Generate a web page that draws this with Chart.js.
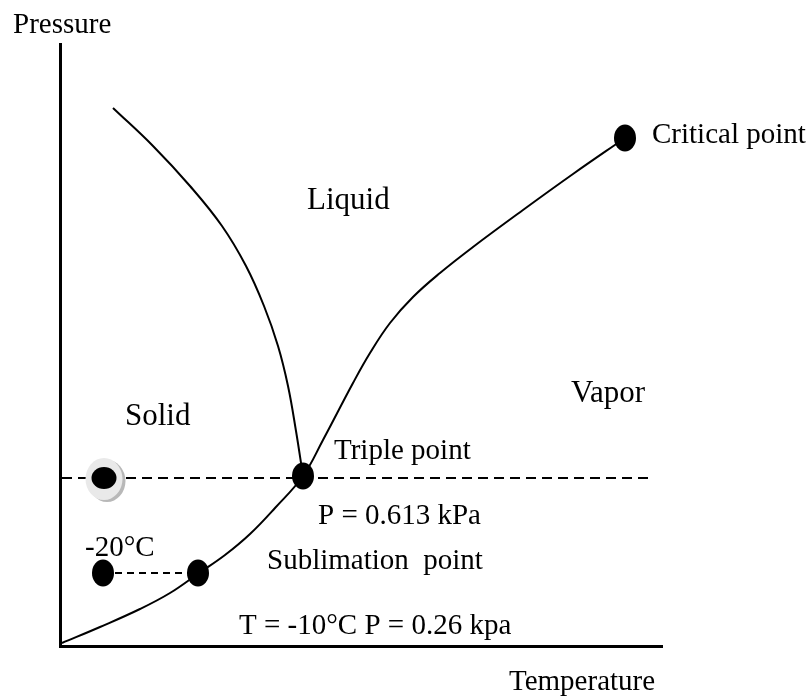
<!DOCTYPE html>
<html>
<head>
<meta charset="utf-8">
<script src="https://cdn.jsdelivr.net/npm/chart.js@4.4.1/dist/chart.umd.min.js"></script>
<style>
  html, body { margin: 0; padding: 0; background: #fff; }
  canvas { display: block; }
</style>
</head>
<body>
<canvas id="phaseChart" width="811" height="697"></canvas>
<script>
// Schematic phase diagram, arbitrary units (temperature right, pressure up)
const meltingCurveT = [53, 93, 130, 162, 186, 204, 218, 228, 236, 243];
const meltingCurveP = [538, 500, 460, 420, 380, 340, 300, 260, 215, 170];

const vaporCurveT = [2, 40, 80, 110, 139, 165, 190, 215, 243, 263, 293, 310, 330, 353, 380, 413, 463, 513, 565];
const vaporCurveP = [3, 19, 37, 53, 73, 91, 112, 138, 170, 206, 263, 293, 323, 349, 373, 399, 436, 472, 508];

const triplePressure = 168;
const tripleLineT = [2, 593];

const sublimationPressure = 73;
const sublimationLineT = [43, 138];

// marked states: triple point, critical point, -20°C state, sublimation point
const markT = [243, 565, 43, 138];
const markP = [170, 508, 73, 73];

// highlighted state on the triple-point isobar
const highlightT = [44];
const highlightP = [168];

const toPoints = (xs, ys) => xs.map((x, i) => ({ x: x, y: ys[i] }));

// black ellipse used as the point marker
function ellipseMarker() {
    const c = document.createElement('canvas');
    c.width = 24; c.height = 28;
    const g = c.getContext('2d');
    g.fillStyle = '#000';
    g.beginPath();
    g.ellipse(12, 14, 11, 13.5, 0, 0, Math.PI * 2);
    g.fill();
    return c;
}

// black ellipse on a light ring with a grey drop shadow
function shadedMarker() {
    const c = document.createElement('canvas');
    c.width = 48; c.height = 52;
    const g = c.getContext('2d');
    g.fillStyle = '#b8b8b8';
    g.beginPath();
    g.ellipse(27, 29, 18.5, 21, 0, 0, Math.PI * 2);
    g.fill();
    g.fillStyle = '#e9e9e9';
    g.beginPath();
    g.ellipse(24, 27, 18.5, 21, 0, 0, Math.PI * 2);
    g.fill();
    g.fillStyle = '#000';
    g.beginPath();
    g.ellipse(24, 26, 12.5, 11, 0, 0, Math.PI * 2);
    g.fill();
    return c;
}

const serif = '"Liberation Serif", "Times New Roman", serif';

// region names and notes, anchored in data units (left edge, baseline)
const textLabels = [
    { text: 'Critical point', x: 592, y: 503, size: 29 },
    { text: 'Liquid', x: 247, y: 437, size: 31 },
    { text: 'Solid', x: 65, y: 221, size: 31 },
    { text: 'Vapor', x: 511, y: 244, size: 31 },
    { text: 'Triple point', x: 274, y: 187, size: 29 },
    { text: 'P = 0.613 kPa', x: 258, y: 122, size: 29 },
    { text: '-20°C', x: 25, y: 90, size: 29 },
    { text: 'Sublimation  point', x: 207, y: 77, size: 29 },
    { text: 'T = -10°C P = 0.26 kpa', x: 179, y: 12, size: 29 }
];

const labelPlugin = {
    id: 'phaseLabels',
    afterDraw(chart) {
        const { ctx, chartArea, scales } = chart;
        ctx.save();
        ctx.fillStyle = '#000';
        ctx.textAlign = 'left';
        ctx.textBaseline = 'alphabetic';
        textLabels.forEach(l => {
            ctx.font = l.size + 'px ' + serif;
            ctx.fillText(l.text, scales.x.getPixelForValue(l.x), scales.y.getPixelForValue(l.y));
        });
        // axis names
        ctx.font = '29px ' + serif;
        ctx.fillText('Pressure', chartArea.left - 47, chartArea.top - 11);
        ctx.fillText('Temperature', chartArea.right - 153, chartArea.bottom + 44);
        ctx.restore();
    }
};

const axisStyle = {
    type: 'linear',
    min: 0,
    max: 602,
    grid: { display: false, drawTicks: false },
    ticks: { display: false },
    border: { display: true, color: '#000', width: 3 }
};

const curveStyle = {
    borderColor: '#000',
    borderWidth: 2,
    pointRadius: 0,
    tension: 0.4,
    clip: false
};

const ctx = document.getElementById('phaseChart').getContext('2d');
new Chart(ctx, {
    type: 'line',
    data: {
        datasets: [
            {
                data: toPoints(markT, markP),
                showLine: false,
                pointStyle: ellipseMarker(),
                pointRadius: 12,
                clip: false
            },
            {
                data: toPoints(highlightT, highlightP),
                showLine: false,
                pointStyle: shadedMarker(),
                pointRadius: 22,
                clip: false
            },
            Object.assign({ data: toPoints(meltingCurveT, meltingCurveP) }, curveStyle),
            Object.assign({ data: toPoints(vaporCurveT, vaporCurveP) }, curveStyle),
            {
                data: tripleLineT.map(t => ({ x: t, y: triplePressure })),
                borderColor: '#000',
                borderWidth: 2,
                borderDash: [10, 6],
                pointRadius: 0,
                clip: false
            },
            {
                data: sublimationLineT.map(t => ({ x: t, y: sublimationPressure })),
                borderColor: '#000',
                borderWidth: 2,
                borderDash: [7, 5],
                pointRadius: 0,
                clip: false
            }
        ]
    },
    options: {
        responsive: false,
        animation: false,
        devicePixelRatio: 1,
        layout: { padding: { left: 60, top: 44, right: 149, bottom: 51 } },
        plugins: {
            legend: { display: false },
            tooltip: { enabled: false }
        },
        scales: {
            x: axisStyle,
            y: axisStyle
        }
    },
    plugins: [labelPlugin]
});
</script>
</body>
</html>
